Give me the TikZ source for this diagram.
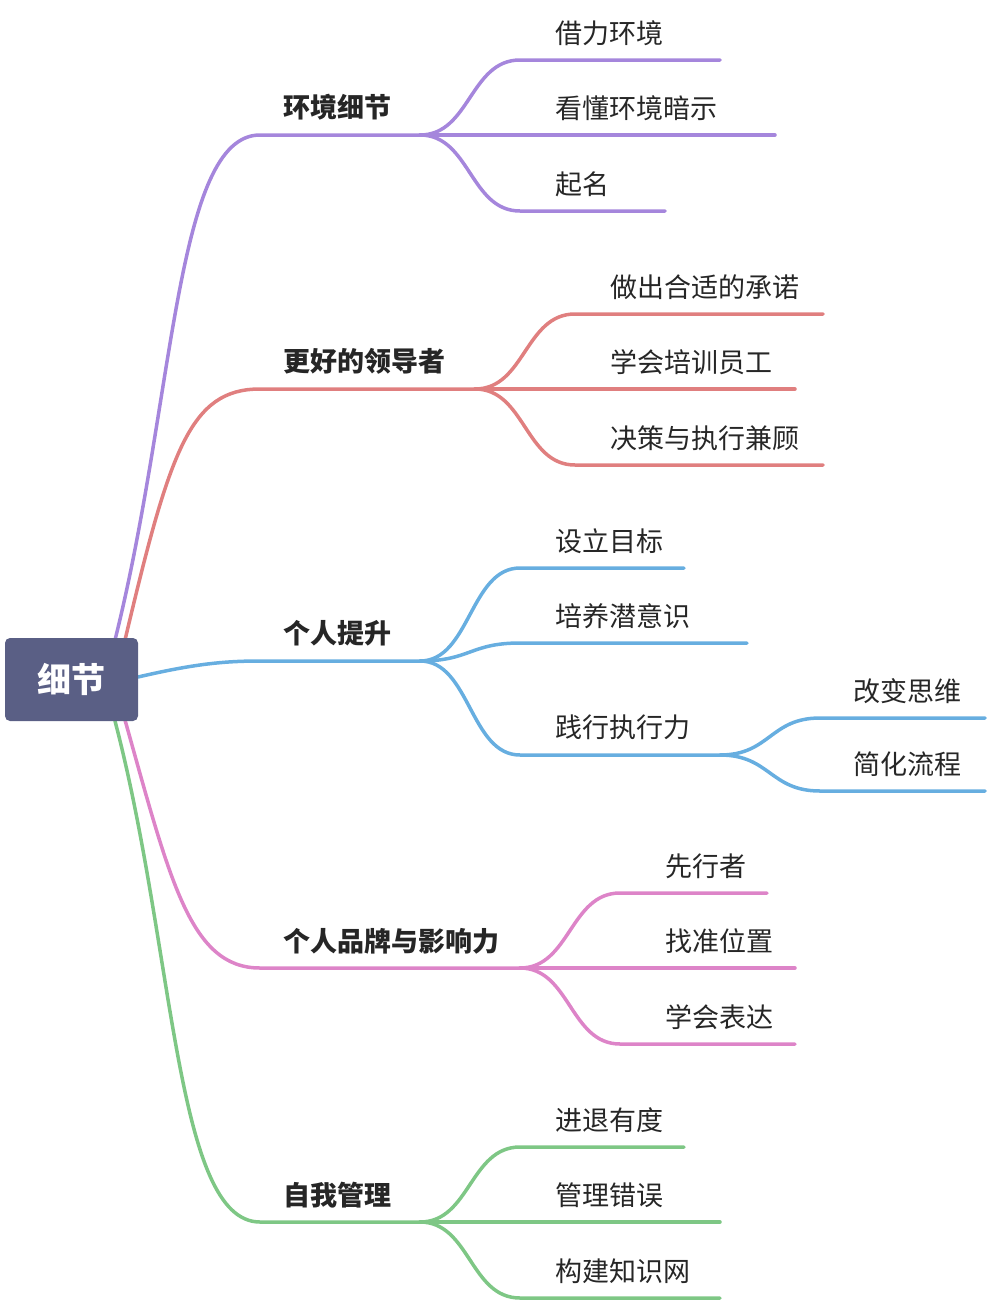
\documentclass[tikz,border=0pt]{standalone}
\usepackage{fontspec}
\setmainfont{Noto Sans CJK SC}
\definecolor{cpu}{HTML}{A586DC}
\definecolor{cre}{HTML}{E07F7F}
\definecolor{cbl}{HTML}{67AEE0}
\definecolor{cpi}{HTML}{DD84C8}
\definecolor{cgr}{HTML}{7EC785}
\definecolor{croot}{HTML}{5A5F85}
\begin{document}
\begin{tikzpicture}[x=1pt,y=-1pt,
  ln/.style={line width=3.5pt,line cap=round},
  lab/.style={anchor=west,inner sep=0pt,font=\fontsize{27}{29}\selectfont,text=black!85},
  lab1/.style={lab,font=\fontsize{27}{29}\selectfont\bfseries}]
\useasboundingbox (0,0) rectangle (986,1304);
\newcommand\sub[6]{%
  \draw[ln,#1] (#2,#3) .. controls ({(#2+#4)/2},#3) and ({(#2+#4)/2},#5) .. (#4,#5) -- (#6,#5);}
\draw[ln,cpu] (115,640) .. controls (175,400) and (175,135) .. (260,135) -- (420,135);
\draw[ln,cre] (125,640) .. controls (170,450) and (190,389) .. (260,389) -- (475,389);
\draw[ln,cbl] (138,677) .. controls (190,665) and (220,661) .. (260,661) -- (420,661);
\draw[ln,cpi] (125,720) .. controls (170,880) and (190,968) .. (260,968) -- (520,968);
\draw[ln,cgr] (115,721) .. controls (175,950) and (175,1222) .. (260,1222) -- (420,1222);
\sub{cpu}{420}{135}{520}{60}{720}
\sub{cpu}{420}{135}{520}{135}{775}
\sub{cpu}{420}{135}{520}{211}{665}
\sub{cre}{475}{389}{575}{314}{823}
\sub{cre}{475}{389}{575}{389}{795}
\sub{cre}{475}{389}{575}{465}{823}
\sub{cbl}{420}{661}{520}{568}{684}
\sub{cbl}{420}{661}{520}{643}{747}
\sub{cbl}{420}{661}{520}{755}{720}
\sub{cbl}{720}{755}{820}{718}{985}
\sub{cbl}{720}{755}{820}{791}{985}
\sub{cpi}{520}{968}{620}{893}{767}
\sub{cpi}{520}{968}{620}{968}{795}
\sub{cpi}{520}{968}{620}{1044}{795}
\sub{cgr}{420}{1222}{520}{1147}{684}
\sub{cgr}{420}{1222}{520}{1222}{720}
\sub{cgr}{420}{1222}{520}{1298}{720}
\node[fill=croot,rounded corners=5pt,minimum width=133pt,minimum height=83pt,text=white,font=\fontsize{34}{36}\selectfont\bfseries] (root) at (71.5,679.5) {细节};
\node[lab1] (a) at (283,107) {环境细节};
\node[lab] (a1) at (555,33) {借力环境};
\node[lab] (a2) at (555,108) {看懂环境暗示};
\node[lab] (a3) at (555,184) {起名};
\node[lab1] (b) at (283,361) {更好的领导者};
\node[lab] (b1) at (610,287) {做出合适的承诺};
\node[lab] (b2) at (610,362) {学会培训员工};
\node[lab] (b3) at (610,438) {决策与执行兼顾};
\node[lab1] (c) at (283,633) {个人提升};
\node[lab] (c1) at (555,541) {设立目标};
\node[lab] (c2) at (555,616) {培养潜意识};
\node[lab] (c3) at (555,727) {践行执行力};
\node[lab] (c31) at (853,691) {改变思维};
\node[lab] (c32) at (853,764) {简化流程};
\node[lab1] (d) at (283,941) {个人品牌与影响力};
\node[lab] (d1) at (665,866) {先行者};
\node[lab] (d2) at (665,941) {找准位置};
\node[lab] (d3) at (665,1017) {学会表达};
\node[lab1] (e) at (283,1195) {自我管理};
\node[lab] (e1) at (555,1120) {进退有度};
\node[lab] (e2) at (555,1195) {管理错误};
\node[lab] (e3) at (555,1271) {构建知识网};
\end{tikzpicture}
\end{document}
